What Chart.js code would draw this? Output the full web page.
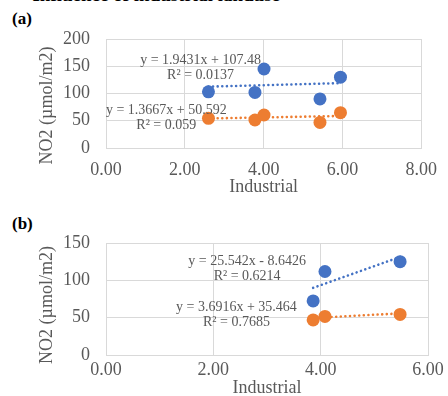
<!DOCTYPE html>
<html>
<head>
<meta charset="utf-8">
<script src="https://cdn.jsdelivr.net/npm/chart.js@4.4.0/dist/chart.umd.min.js"></script>
<style>
    html, body { margin: 0; padding: 0; width: 448px; height: 396px; overflow: hidden; background: #fff; }
    .wrap { position: absolute; left: 0; width: 448px; }
    .tag { position: absolute; left: 12px; font: bold 17px 'Liberation Serif', 'Times New Roman', serif; color: #000; line-height: 17px; }
    .head { position: absolute; right: 168px; top: -14px; font: bold 19px 'Liberation Serif', 'Times New Roman', serif; line-height: 18px; white-space: nowrap; color: #000; }
</style>
</head>
<body>
<div class="head">Influence of industrial landuse</div>
<div class="tag" style="top:10px">(a)</div>
<div class="tag" style="top:215px">(b)</div>
<div class="wrap" style="top:0;height:200px"><canvas id="chartA" width="448" height="200"></canvas></div>
<div class="wrap" style="top:200px;height:200px"><canvas id="chartB" width="448" height="200"></canvas></div>

<script>
// ---- data ----
// (a) five sites
const xA = [2.60, 3.78, 4.01, 5.43, 5.95];
const blueA = [103, 102, 145, 90, 130];
const orangeA = [54.5, 51.4, 60.6, 47, 64.8];
const fitA = { blue: [1.9431, 107.48], orange: [1.3667, 50.592] };
const eqA = [
    { text: ['y = 1.9431x + 107.48', 'R² = 0.0137'], x: 2.40, y: 161.5 },
    { text: ['y = 1.3667x + 50.592', 'R² = 0.059'], x: 1.53, y: 69.7 }
];
const xTicksA = [0, 2, 4, 6, 8];
const yTicksA = [0, 50, 100, 150, 200];

// (b) three sites
const xB = [3.86, 4.08, 5.48];
const blueB = [72.4, 111.8, 125];
const orangeB = [47, 51.7, 54.3];
const fitB = { blue: [25.542, -8.6426], orange: [3.6916, 35.464] };
const eqB = [
    { text: ['y = 25.542x - 8.6426', 'R² = 0.6214'], x: 2.63, y: 126 },
    { text: ['y = 3.6916x + 35.464', 'R² = 0.7685'], x: 2.43, y: 64.5 }
];
const xTicksB = [0, 2, 4, 6];
const yTicksB = [0, 50, 100, 150];

const BLUE = '#4472C4';
const ORANGE = '#ED7D31';
const GREY = '#595959';
const GRID = '#d9d9d9';
const SERIF = "'Liberation Serif', 'Times New Roman', serif";

function points(xs, ys) {
    return xs.map((x, i) => ({ x: x, y: ys[i] }));
}

// straight trendline over the range of the data, from the printed equation
function trend(xs, coef) {
    const lo = Math.min(...xs), hi = Math.max(...xs);
    return [lo, hi].map(x => ({ x: x, y: coef[0] * x + coef[1] }));
}

// equation labels + rotated y title
const textPlugin = {
    id: 'textPlugin',
    afterDraw(chart, args, opts) {
        const ctx = chart.ctx;
        const xs = chart.scales.x, ys = chart.scales.y;
        ctx.save();
        ctx.fillStyle = GREY;
        ctx.font = '14px ' + SERIF;
        ctx.textAlign = 'center';
        ctx.textBaseline = 'middle';
        opts.labels.forEach(l => {
            const px = xs.getPixelForValue(l.x), py = ys.getPixelForValue(l.y);
            l.text.forEach((t, i) => ctx.fillText(t, px, py + i * 15.5));
        });
        const a = chart.chartArea;
        ctx.font = '18px ' + SERIF;
        ctx.translate(opts.titleX, (a.top + a.bottom) / 2 + opts.titleShift);
        ctx.rotate(-Math.PI / 2);
        ctx.fillText('NO2 (µmol/m2)', 0, 0);
        ctx.restore();
    }
};

function makeChart(id, cfg) {
    const dotted = { borderWidth: 2.6, borderDash: [0.01, 4.6], borderCapStyle: 'round', pointRadius: 0, order: 1 };
    return new Chart(document.getElementById(id), {
        type: 'scatter',
        data: {
            datasets: [
                { data: points(cfg.xs, cfg.blue), backgroundColor: BLUE, borderColor: BLUE, pointRadius: 6.5, borderWidth: 0, order: 0 },
                { data: points(cfg.xs, cfg.orange), backgroundColor: ORANGE, borderColor: ORANGE, pointRadius: 6.5, borderWidth: 0, order: 0 },
                Object.assign({ type: 'line', data: trend(cfg.xs, cfg.fit.blue), borderColor: BLUE }, dotted),
                Object.assign({ type: 'line', data: trend(cfg.xs, cfg.fit.orange), borderColor: ORANGE }, dotted)
            ]
        },
        options: {
            responsive: false,
            animation: false,
            events: [],
            layout: { padding: { top: cfg.top, right: 20, left: 0, bottom: 0 } },
            plugins: {
                legend: { display: false },
                tooltip: { enabled: false },
                textPlugin: { labels: cfg.labels, titleX: 47, titleShift: cfg.titleShift }
            },
            scales: {
                x: {
                    type: 'linear',
                    min: cfg.xTicks[0],
                    max: cfg.xTicks[cfg.xTicks.length - 1],
                    afterBuildTicks: s => { s.ticks = cfg.xTicks.map(v => ({ value: v })); },
                    afterFit: s => { s.height = cfg.xHeight; },
                    grid: { color: GRID, drawTicks: false },
                    border: { color: GRID },
                    ticks: {
                        padding: cfg.xPad,
                        color: GREY,
                        font: { family: SERIF, size: 18 },
                        callback: v => v.toFixed(2)
                    },
                    title: {
                        display: true,
                        text: 'Industrial',
                        color: GREY,
                        font: { family: SERIF, size: 18 },
                        padding: { top: 0, bottom: cfg.titlePad }
                    }
                },
                y: {
                    min: cfg.yTicks[0],
                    max: cfg.yTicks[cfg.yTicks.length - 1],
                    afterBuildTicks: s => { s.ticks = cfg.yTicks.map(v => ({ value: v })); },
                    afterFit: s => { s.width = 106; },
                    grid: { color: GRID, drawTicks: false },
                    border: { color: GRID },
                    ticks: {
                        padding: 16,
                        color: GREY,
                        font: { family: SERIF, size: 18 }
                    }
                }
            }
        },
        plugins: [textPlugin]
    });
}

makeChart('chartA', {
    xs: xA, blue: blueA, orange: orangeA, fit: fitA, labels: eqA,
    xTicks: xTicksA, yTicks: yTicksA,
    top: 39, xHeight: 52, xPad: 11, titlePad: 2, titleShift: 12
});

makeChart('chartB', {
    xs: xB, blue: blueB, orange: orangeB, fit: fitB, labels: eqB,
    xTicks: xTicksB, yTicks: yTicksB,
    top: 43, xHeight: 45, xPad: 4, titlePad: 1, titleShift: 6
});
</script>
</body>
</html>
